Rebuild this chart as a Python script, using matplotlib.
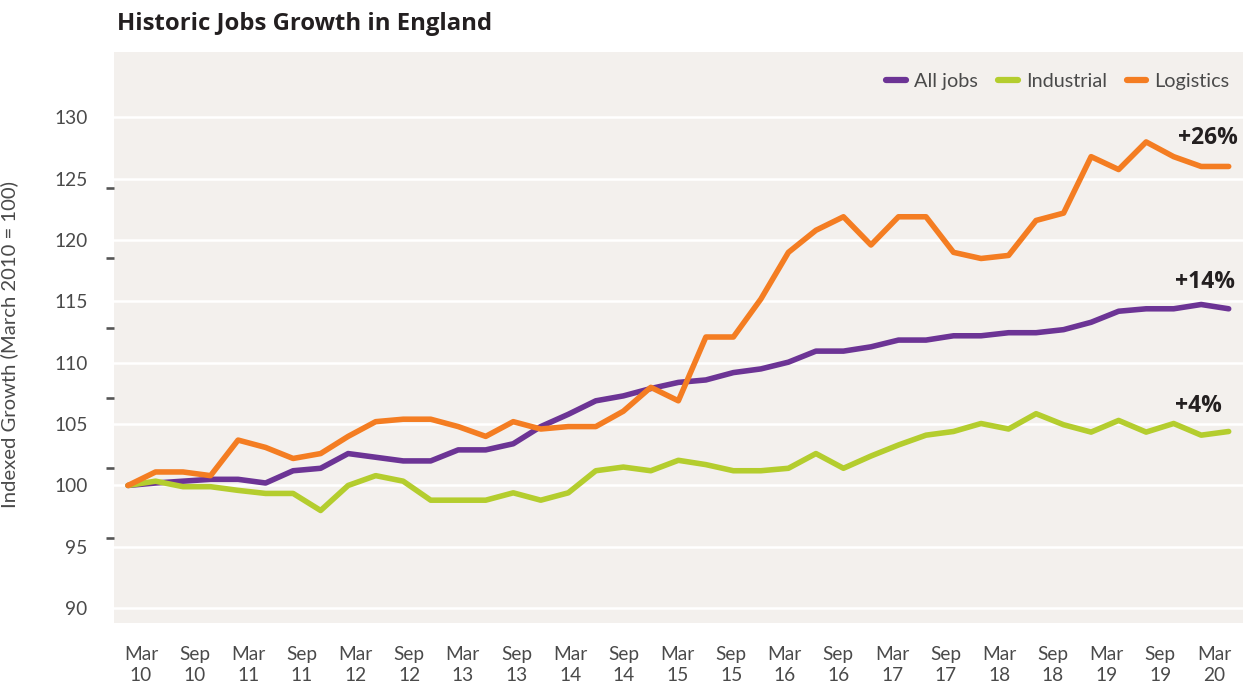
import numpy as np
import matplotlib
matplotlib.use("Agg")
import matplotlib.pyplot as plt
from matplotlib.lines import Line2D
from matplotlib.ticker import FixedLocator

# ---------------- data ----------------
quarter_index = list(range(41))  # Mar 2010 ... Mar 2020, quarterly

all_jobs = [100.0, 100.2, 100.35, 100.5, 100.5, 100.2, 101.2, 101.4, 102.6, 102.3,
            102.0, 102.0, 102.9, 102.9, 103.4, 104.8, 105.8, 106.9, 107.3, 107.9,
            108.4, 108.6, 109.2, 109.5, 110.05, 110.95, 110.95, 111.3, 111.85, 111.85,
            112.2, 112.2, 112.45, 112.45, 112.7, 113.3, 114.2, 114.4, 114.4, 114.75,
            114.4]

industrial = [100.0, 100.35, 99.9, 99.9, 99.6, 99.35, 99.35, 97.96, 100.0, 100.8,
              100.35, 98.8, 98.8, 98.8, 99.4, 98.8, 99.4, 101.2, 101.5, 101.2,
              102.05, 101.7, 101.2, 101.2, 101.4, 102.6, 101.4, 102.4, 103.3, 104.1,
              104.4, 105.05, 104.6, 105.85, 104.95, 104.35, 105.3, 104.35, 105.05, 104.1,
              104.4]

logistics = [100.0, 101.1, 101.1, 100.8, 103.7, 103.1, 102.2, 102.6, 104.0, 105.2,
             105.4, 105.4, 104.8, 104.0, 105.2, 104.6, 104.8, 104.8, 106.05, 108.0,
             106.9, 112.1, 112.1, 115.2, 119.0, 120.8, 121.9, 119.6, 121.9, 121.9,
             119.0, 118.5, 118.75, 121.6, 122.2, 126.8, 125.75, 128.0, 126.8, 126.0,
             126.0]

series_names = ["All jobs", "Industrial", "Logistics"]
x_tick_labels = ["Mar\n10", "Sep\n10", "Mar\n11", "Sep\n11", "Mar\n12", "Sep\n12",
                 "Mar\n13", "Sep\n13", "Mar\n14", "Sep\n14", "Mar\n15", "Sep\n15",
                 "Mar\n16", "Sep\n16", "Mar\n17", "Sep\n17", "Mar\n18", "Sep\n18",
                 "Mar\n19", "Sep\n19", "Mar\n20"]
y_ticks = [90, 95, 100, 105, 110, 115, 120, 125, 130]

# ---------------- style ----------------
PURPLE = "#6C3495"
GREEN = "#B4CD2E"
ORANGE = "#F47D22"
PANEL = "#F3F0ED"
TEXT = "#4A4A4A"
DARK = "#231F20"

plt.rcParams["font.family"] = ["Lato", "DejaVu Sans"]

fig = plt.figure(figsize=(12.52, 6.84), dpi=100)
fig.patch.set_facecolor("white")
ax = fig.add_axes([114 / 1252, 1 - 623 / 684, (1243 - 114) / 1252, (623 - 52) / 684])
ax.set_facecolor(PANEL)
for s in ax.spines.values():
    s.set_visible(False)

ax.set_xlim(-0.509, 40.52)
ax.set_ylim(88.79, 135.33)

# grid
ax.set_yticks(y_ticks)
ax.set_yticklabels([str(v) for v in y_ticks])
ax.yaxis.grid(True, color="white", linewidth=1.8)
ax.xaxis.grid(False)
ax.set_axisbelow(True)

# decorative minor y ticks (evenly spaced 8 dashes between 90 and 130)
ax.yaxis.set_minor_locator(FixedLocator(list(np.linspace(90, 130, 8))))
ax.tick_params(axis="y", which="minor", length=6, width=1.9, color="#555555", direction="out")
ax.tick_params(axis="y", which="major", length=0, pad=19, labelsize=13.8, labelcolor=TEXT)

# x ticks
x_tick_pos = 0.472 + np.arange(len(x_tick_labels)) * 1.9495
ax.set_xticks(x_tick_pos)
ax.set_xticklabels(x_tick_labels, linespacing=1.32)
ax.tick_params(axis="x", which="both", length=0, pad=16.5, labelsize=13.8, labelcolor=TEXT)

# lines
lw = 4.0
ax.plot(quarter_index, all_jobs, color=PURPLE, lw=lw, solid_joinstyle="round",
        solid_capstyle="round", zorder=3)
ax.plot(quarter_index, industrial, color=GREEN, lw=lw, solid_joinstyle="round",
        solid_capstyle="round", zorder=3)
ax.plot(quarter_index, logistics, color=ORANGE, lw=lw, solid_joinstyle="round",
        solid_capstyle="round", zorder=3)

# end annotations
for series, off in [(logistics, (-15, 20.5)), (all_jobs, (-17, 19.5)), (industrial, (-22, 18))]:
    pct = round(series[-1] - 100)
    ax.annotate(f"+{pct}%", xy=(quarter_index[-1], series[-1]), xytext=off,
                textcoords="offset points", ha="center", va="center",
                fontsize=16.5, fontweight="bold", color=DARK,
                family=["Open Sans", "DejaVu Sans"])

# legend
handles = [Line2D([0], [0], color=c, lw=4.5, solid_capstyle="round")
           for c in (PURPLE, GREEN, ORANGE)]
leg = ax.legend(handles, series_names, loc="center right", bbox_to_anchor=(0.988, 0.949),
                ncol=3, frameon=False, fontsize=14.3, handlelength=1.0,
                handletextpad=0.4, columnspacing=1.0, borderpad=0, borderaxespad=0)
for t in leg.get_texts():
    t.set_color(TEXT)

# y label
ax.set_ylabel("Indexed Growth (March 2010 = 100)", fontsize=14.6, color=TEXT)
ax.yaxis.set_label_coords(-0.085, 0.4886)

# title
fig.text(117 / 1252, 1 - 23.5 / 684, "Historic Jobs Growth in England", ha="left", va="center",
         fontsize=17.2, fontweight="bold", color=DARK, family=["Open Sans", "DejaVu Sans"])

fig.savefig("out.png", dpi=100, facecolor="white")
